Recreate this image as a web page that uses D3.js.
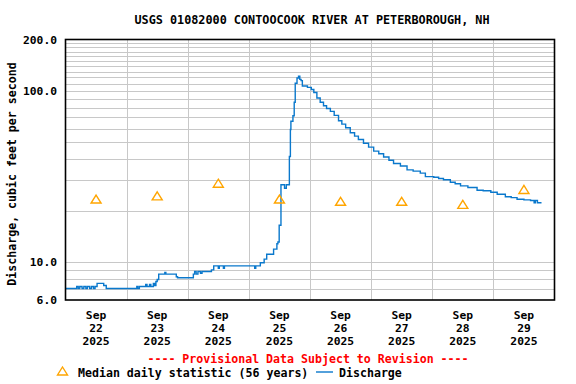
<!DOCTYPE html>
<html>
<head>
<meta charset="utf-8">
<script src="https://cdn.jsdelivr.net/npm/d3@7"></script>
<style>
  body { margin: 0; background: #fff; }
  text { font-family: "DejaVu Sans Mono", monospace; font-weight: bold; fill: #000; }
</style>
</head>
<body>
<svg id="chart" width="576" height="384"></svg>
<script>
//
// Data
//

const titleText = 'USGS 01082000 CONTOOCOOK RIVER AT PETERBOROUGH, NH';
const yLabel = 'Discharge, cubic feet per second';

// hours after Sep 22 00:00 and discharge in cfs
const dischargeHours = [
  0, 4.4, 5, 5.6, 6.5, 7.2, 8, 8.6, 9.5, 10.2, 11, 11.6, 12.4, 15, 16,
  28, 28.4, 29, 31.5, 32, 33, 33.5, 34.5, 35, 35.5, 36, 36.6, 39, 39.4, 43.5, 44,
  50.2, 50.7, 51.3, 52, 53, 53.6, 57.3, 58.2, 60, 60.4, 62, 62.4, 74.3, 74.7,
  76.5, 78, 79, 81.7, 83, 83.4, 83.9, 84.6, 86, 86.7, 87.9, 88.3, 88.5, 89.3,
  89.8, 90.2, 90.9, 91.5, 92, 92.5, 93, 95, 96.5, 97.5, 98.7, 100, 101.3, 102.5,
  104, 105.5, 107.2, 108.5, 110, 111.8, 113.5, 115, 117, 119, 121, 123, 124.9,
  127, 128.8, 131.5, 134.1, 136.5, 139.3, 141.3, 144.6, 146.5, 148.4, 151.1,
  153, 155.1, 158, 161.6, 164, 167, 169.5, 172.7, 175, 177.3, 180, 182.6, 184,
  184.5, 185.3, 186.9
];
const dischargeCfs = [
  7.0, 7.2, 7.0, 7.2, 7.0, 7.2, 7.0, 7.2, 7.0, 7.2, 7.0, 7.2, 7.5, 7.3, 7.0,
  7.2, 7.0, 7.2, 7.4, 7.2, 7.4, 7.2, 7.5, 7.3, 7.7, 7.9, 8.5, 8.7, 8.5, 8.2, 8.1,
  8.5, 8.8, 8.5, 8.8, 8.6, 8.8, 9.0, 9.5, 9.2, 9.5, 9.2, 9.5, 9.2, 9.5,
  9.9, 10.4, 11.1, 11.9, 12.8, 13.1, 16.4, 28.3, 27.0, 28.3, 41.4, 59.6, 66.6, 71.7,
  86, 111, 119, 122, 117, 115, 107, 105, 102, 98, 91, 86, 82, 79,
  76, 72, 67, 64, 61, 57, 54.5, 52, 49.5, 47, 44.5, 43, 41.1,
  39.4, 37.7, 36.4, 34.6, 34, 33.1, 31.6, 31.3, 30.8, 30.3, 29.3,
  28.7, 27.9, 27.3, 26.3, 26.1, 25.6, 24.9, 24.1, 23.8, 23.3, 23.1, 22.9, 22.2,
  22.9, 22.2, 22.2
];

// median daily statistic, one per day at noon
const medianDays = [22, 23, 24, 25, 26, 27, 28, 29];
const medianCfs = [23.2, 24.2, 28.7, 23.2, 22.5, 22.5, 21.6, 26.4];

const yTickValues = [6, 10, 100, 200];
const yGridValues = [7, 8, 9, 10, 20, 30, 40, 50, 60, 70, 80, 90, 100,
  110, 120, 130, 140, 150, 160, 170, 180, 190];

//
// Set-up
//

const plot = { left: 65.5, right: 554.5, top: 39.5, bottom: 300 };
const lineColor = '#0a78cc';
const medianColor = '#ffa500';

const svg = d3.select('#chart');

const t0 = Date.UTC(2025, 8, 22);
const toDate = h => new Date(t0 + h * 3600e3);

const xScale = d3.scaleUtc()
  .domain([toDate(0), toDate(192)])
  .range([plot.left, plot.right]);

const yScale = d3.scaleLog()
  .domain([6, 200])
  .range([plot.bottom, plot.top]);

// title
svg.append('text')
  .attr('x', 312)
  .attr('y', 24)
  .attr('text-anchor', 'middle')
  .style('font-size', '11.8px')
  .text(titleText);

//
// Grid
//

const grid = svg.append('g').attr('class', 'grid')
  .attr('stroke', '#c8c8c8')
  .attr('stroke-width', 1)
  .attr('shape-rendering', 'crispEdges');

grid.selectAll('.hgrid')
  .data(yGridValues)
  .enter().append('line')
    .attr('class', 'hgrid')
    .attr('x1', plot.left)
    .attr('x2', plot.right)
    .attr('y1', d => Math.round(yScale(d)) + 0.5)
    .attr('y2', d => Math.round(yScale(d)) + 0.5);

const dayTicks = d3.range(1, 8).map(i => toDate(i * 24));
grid.selectAll('.vgrid')
  .data(dayTicks)
  .enter().append('line')
    .attr('class', 'vgrid')
    .attr('x1', d => Math.round(xScale(d)) + 0.5)
    .attr('x2', d => Math.round(xScale(d)) + 0.5)
    .attr('y1', plot.top)
    .attr('y2', plot.bottom);

//
// Discharge line
//

const series = dischargeHours.map((h, i) => ({ date: toDate(h), value: dischargeCfs[i] }));

const line = d3.line()
  .x(d => xScale(d.date))
  .y(d => yScale(d.value))
  .curve(d3.curveStepAfter);

svg.append('path')
  .datum(series)
  .attr('fill', 'none')
  .attr('stroke', lineColor)
  .attr('stroke-width', 1.4)
  .attr('d', line);

//
// Median triangles
//

const triPath = 'M0,-4.5L5,3.5L-5,3.5Z';

svg.selectAll('.median')
  .data(medianDays.map((d, i) => ({ date: toDate((d - 22) * 24 + 12), value: medianCfs[i] })))
  .enter().append('path')
    .attr('class', 'median')
    .attr('d', triPath)
    .attr('transform', d => `translate(${xScale(d.date)},${yScale(d.value)})`)
    .attr('fill', 'none')
    .attr('stroke', medianColor)
    .attr('stroke-width', 1.4);

// frame
svg.append('rect')
  .attr('x', plot.left)
  .attr('y', plot.top)
  .attr('width', plot.right - plot.left)
  .attr('height', plot.bottom - plot.top)
  .attr('fill', 'none')
  .attr('stroke', '#000')
  .attr('stroke-width', 1.6);

//
// Axes labels
//

svg.selectAll('.ytick')
  .data(yTickValues)
  .enter().append('text')
    .attr('class', 'ytick')
    .attr('x', 57)
    .attr('y', d => yScale(d))
    .attr('dy', '.38em')
    .attr('text-anchor', 'end')
    .style('font-size', '11.3px')
    .text(d => d3.format('.1f')(d));

const dayLabels = svg.selectAll('.xtick')
  .data(medianDays)
  .enter().append('text')
    .attr('class', 'xtick')
    .attr('text-anchor', 'middle')
    .style('font-size', '11.3px');

dayLabels.each(function (d) {
  const x = xScale(toDate((d - 22) * 24 + 12));
  const t = d3.select(this);
  ['Sep', String(d), '2025'].forEach((s, j) => {
    t.append('tspan').attr('x', x).attr('y', 318.5 + j * 13).text(s);
  });
});

svg.append('text')
  .attr('transform', 'translate(16,174) rotate(-90)')
  .attr('text-anchor', 'middle')
  .style('font-size', '11.6px')
  .text(yLabel);

//
// Footer and legend
//

svg.append('text')
  .attr('x', 308)
  .attr('y', 363)
  .attr('text-anchor', 'middle')
  .style('font-size', '11.6px')
  .style('fill', '#ff0000')
  .text('---- Provisional Data Subject to Revision ----');

svg.append('path')
  .attr('d', triPath)
  .attr('transform', 'translate(62.5,371.5)')
  .attr('fill', 'none')
  .attr('stroke', medianColor)
  .attr('stroke-width', 1.4);

svg.append('text')
  .attr('x', 78)
  .attr('y', 376.5)
  .style('font-size', '11.6px')
  .text('Median daily statistic (56 years)');

svg.append('line')
  .attr('x1', 316)
  .attr('x2', 333)
  .attr('y1', 372)
  .attr('y2', 372)
  .attr('stroke', lineColor)
  .attr('stroke-width', 1.4);

svg.append('text')
  .attr('x', 339)
  .attr('y', 376.5)
  .style('font-size', '11.6px')
  .text('Discharge');
</script>
</body>
</html>
